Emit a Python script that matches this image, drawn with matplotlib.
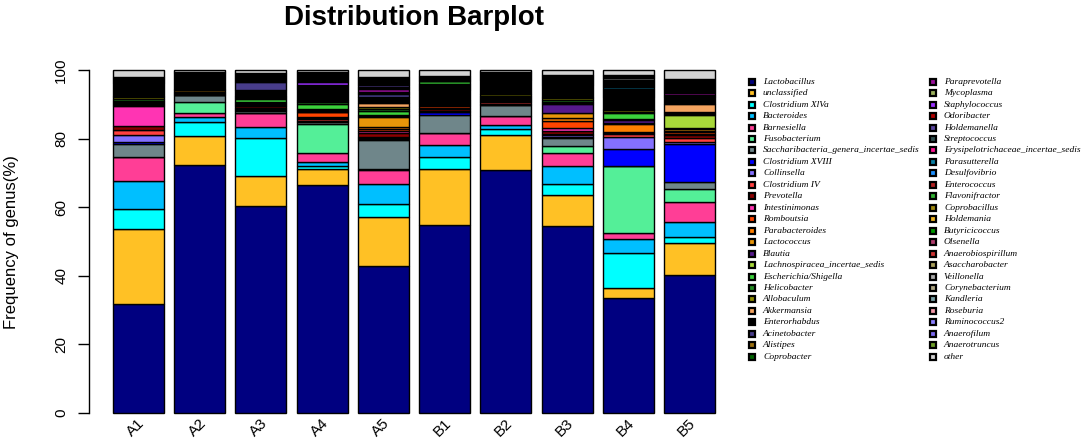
import matplotlib
matplotlib.use("Agg")
import matplotlib.pyplot as plt
import numpy as np

plt.rcParams['font.family'] = ['Liberation Sans', 'DejaVu Sans']

samples = ["A1", "A2", "A3", "A4", "A5", "B1", "B2", "B3", "B4", "B5"]

genera = [
    "Lactobacillus", "unclassified", "Clostridium XlVa", "Bacteroides", "Barnesiella",
    "Fusobacterium", "Saccharibacteria_genera_incertae_sedis", "Clostridium XVIII",
    "Collinsella", "Clostridium IV", "Prevotella", "Intestinimonas", "Romboutsia",
    "Parabacteroides", "Lactococcus", "Blautia", "Lachnospiracea_incertae_sedis",
    "Escherichia/Shigella", "Helicobacter", "Allobaculum", "Akkermansia", "Enterorhabdus",
    "Acinetobacter", "Alistipes", "Coprobacter",
    "Paraprevotella", "Mycoplasma", "Staphylococcus", "Odoribacter", "Holdemanella",
    "Streptococcus", "Erysipelotrichaceae_incertae_sedis", "Parasutterella", "Desulfovibrio",
    "Enterococcus", "Flavonifractor", "Coprobacillus", "Holdemania", "Butyricicoccus",
    "Olsenella", "Anaerobiospirillum", "Asaccharobacter", "Veillonella", "Corynebacterium",
    "Kandleria", "Roseburia", "Ruminococcus2", "Anaerofilum", "Anaerotruncus", "other",
]

# relative abundance (%) per sample, in the order of `genera`
A1 = [31.9, 21.9, 5.8, 8.2, 6.8, 0.2, 3.6, 0.6, 2.2, 1.4,
      1.2, 5.9, 0.3, 0.2, 0.4, 0.2, 0.2, 0.2, 0.5, 0.5,
      0.2, 4.0, 0.1, 0.2, 0.2, 0.1, 0.1, 0.1, 0.1, 0.1,
      0.4, 0.1, 0.1, 0.1, 0.1, 0.0, 0.0, 0.0, 0.0, 0.0,
      0.0, 0.0, 0.0, 0.0, 0.0, 0.0, 0.0, 0.0, 0.0, 1.8]
A2 = [72.3, 8.5, 4.2, 1.5, 1.2, 3.0, 2.1, 0.0, 0.0, 0.2,
      0.2, 0.2, 0.2, 0.2, 0.5, 0.0, 0.0, 0.0, 0.2, 0.0,
      0.0, 4.7, 0.0, 0.2, 0.0, 0.0, 0.0, 0.0, 0.0, 0.0,
      0.0, 0.0, 0.0, 0.0, 0.0, 0.0, 0.0, 0.0, 0.0, 0.0,
      0.0, 0.0, 0.0, 0.0, 0.0, 0.0, 0.0, 0.0, 0.0, 0.6]
A3 = [60.5, 8.8, 10.9, 3.2, 4.1, 0.2, 0.5, 0.2, 0.2, 0.3,
      0.6, 0.2, 0.3, 0.2, 0.2, 0.3, 0.2, 0.8, 0.3, 0.2,
      0.2, 1.8, 2.5, 0.2, 0.2, 0.2, 0.2, 0.2, 0.2, 0.2,
      0.3, 0.2, 0.2, 0.2, 0.2, 0.0, 0.0, 0.0, 0.0, 0.0,
      0.0, 0.0, 0.0, 0.0, 0.0, 0.0, 0.0, 0.0, 0.0, 0.8]
A4 = [66.6, 4.7, 0.8, 1.2, 2.6, 8.6, 0.4, 0.2, 0.2, 0.4,
      0.3, 0.3, 1.5, 0.2, 0.2, 0.2, 0.2, 1.6, 0.6, 0.4,
      0.2, 3.3, 0.2, 0.2, 0.2, 0.2, 0.2, 0.9, 0.2, 0.2,
      0.2, 0.2, 0.4, 0.2, 0.2, 0.2, 0.2, 0.2, 0.1, 0.1,
      0.1, 0.0, 0.0, 0.0, 0.0, 0.0, 0.3, 0.0, 0.0, 0.6]
A5 = [42.8, 14.3, 4.0, 5.6, 4.3, 0.3, 8.4, 0.3, 0.3, 0.3,
      1.0, 0.6, 0.6, 0.6, 2.9, 0.4, 0.3, 1.2, 0.5, 0.5,
      1.3, 1.8, 0.9, 0.2, 0.2, 0.9, 0.3, 0.2, 0.2, 0.5,
      0.2, 0.2, 0.2, 0.2, 0.2, 0.2, 0.2, 0.2, 0.1, 0.1,
      0.1, 0.1, 0.1, 0.1, 0.1, 0.0, 0.0, 0.0, 0.0, 2.0]
B1 = [54.7, 16.4, 3.6, 3.3, 3.5, 0.2, 5.0, 0.9, 0.2, 0.2,
      0.6, 0.2, 0.6, 0.2, 0.2, 0.3, 0.2, 0.2, 0.3, 0.2,
      0.2, 3.0, 0.2, 0.2, 0.2, 0.1, 0.1, 0.1, 0.1, 0.1,
      0.1, 0.1, 0.1, 0.1, 0.1, 0.9, 0.1, 0.1, 0.4, 0.1,
      0.1, 0.1, 0.1, 0.1, 0.1, 0.1, 0.1, 0.1, 0.1, 1.5]
B2 = [70.8, 10.3, 1.7, 1.2, 2.6, 0.2, 3.0, 0.2, 0.2, 0.5,
      0.2, 0.2, 0.2, 0.2, 0.2, 0.2, 0.2, 0.2, 0.2, 0.5,
      0.2, 4.1, 0.1, 0.1, 0.1, 0.1, 0.4, 0.1, 0.1, 0.1,
      0.1, 0.1, 0.1, 0.1, 0.1, 0.1, 0.1, 0.1, 0.1, 0.1,
      0.0, 0.0, 0.0, 0.0, 0.0, 0.0, 0.0, 0.0, 0.0, 0.6]
B3 = [54.5, 9.2, 3.0, 5.5, 3.8, 1.8, 2.5, 0.4, 0.4, 0.4,
      0.7, 1.0, 1.9, 0.9, 1.5, 2.8, 0.3, 0.3, 0.4, 0.7,
      0.3, 3.3, 0.2, 0.2, 0.4, 0.1, 0.1, 0.1, 0.1, 0.1,
      0.1, 0.1, 0.1, 0.1, 0.1, 0.1, 0.1, 0.1, 0.1, 0.1,
      0.1, 0.1, 0.1, 0.1, 0.1, 0.1, 0.1, 0.1, 0.1, 1.2]
B4 = [33.5, 3.0, 10.3, 4.1, 1.7, 19.6, 0.0, 5.0, 3.5, 0.6,
      0.3, 0.2, 0.3, 2.4, 0.2, 0.7, 0.3, 1.9, 0.4, 0.3,
      0.3, 3.5, 0.2, 0.2, 0.3, 0.2, 0.5, 0.2, 0.2, 0.2,
      0.3, 0.2, 0.5, 0.2, 0.2, 0.2, 0.2, 0.5, 0.2, 0.2,
      0.2, 0.2, 0.5, 0.2, 0.2, 0.4, 0.1, 0.1, 0.1, 1.2]
B5 = [40.4, 9.3, 1.8, 4.3, 5.9, 3.8, 2.0, 10.9, 0.6, 1.2,
      0.9, 0.4, 0.4, 0.5, 0.4, 0.5, 3.8, 0.3, 0.3, 0.3,
      2.1, 2.0, 0.2, 0.3, 0.3, 0.4, 0.4, 0.2, 0.2, 0.2,
      0.2, 0.4, 0.2, 0.2, 0.2, 0.3, 0.2, 0.2, 0.3, 0.2,
      0.1, 0.1, 0.1, 0.1, 0.1, 0.1, 0.1, 0.1, 0.1, 2.4]

colors = [
    "#000080", "#FFC125", "#00FFFF", "#00BFFF", "#FF3E96",
    "#54EF98", "#6F868A", "#0000FF", "#8470FF", "#FF4040",
    "#8B0000", "#FF34B3", "#FF4500", "#FF7F00", "#E8960A",
    "#551A8B", "#A8D83A", "#3CD23C", "#228B22", "#8B8B00",
    "#F4A460", "#000000", "#483D8B", "#9C7010", "#006400",
    "#9B109B", "#9AB05C", "#9B30FF", "#B00000", "#5A45A0",
    "#2F4F4F", "#FF1493", "#0A80A5", "#1E90FF", "#B22222",
    "#30B030", "#A08A10", "#EEB422", "#009A00", "#B03C6C",
    "#CD3333", "#A89F5A", "#A9A9A9", "#ADA683", "#78A0A5",
    "#F599A8", "#8C80FF", "#7B68EE", "#6E9E28", "#D3D3D3",
]

data = np.array([A1, A2, A3, A4, A5, B1, B2, B3, B4, B5], dtype=float)
data = data / data.sum(axis=1, keepdims=True) * 100.0

W, H = 1084, 438
fig = plt.figure(figsize=(W / 100, H / 100), dpi=100)
ax = fig.add_axes([89 / W, (H - 426.7) / H, 650 / W, 370 / H])

x = 0.7 + 1.2 * np.arange(len(samples))
bottom = np.zeros(len(samples))
for j in range(len(genera)):
    ax.bar(x, data[:, j], width=1.0, bottom=bottom, color=colors[j],
           edgecolor="black", linewidth=1.0)
    bottom += data[:, j]

ax.set_xlim(-0.272, 12.472)
ax.set_ylim(-4, 104)
for s in ["top", "right", "bottom"]:
    ax.spines[s].set_visible(False)
ax.spines["left"].set_bounds(0, 100)
ax.spines["left"].set_linewidth(1.0)
ax.set_yticks([0, 20, 40, 60, 80, 100])
ax.tick_params(axis="y", length=8, width=1.0, labelsize=11, pad=7)
for lbl in ax.get_yticklabels():
    lbl.set_rotation(90)
    lbl.set_va("center")
ax.set_xticks([])
for xi, s in zip(x, samples):
    ax.text(xi + 0.08, -2.3, s, rotation=45, ha="right", va="center",
            rotation_mode="anchor", fontsize=11, clip_on=False)

fig.text(414 / W, 1 - 18 / H, "Distribution Barplot", fontsize=20,
         fontweight="bold", ha="center", va="center")
fig.text(12 / W, 1 - 242 / H, "Frequency of genus(%)", rotation=90,
         fontsize=12, ha="center", va="center")

# legend (two columns)
lax = fig.add_axes([0, 0, 1, 1])
lax.set_xlim(0, W)
lax.set_ylim(H, 0)
lax.axis("off")
nrow = 25
for i, g in enumerate(genera):
    col, row = divmod(i, nrow)
    mx = 752 if col == 0 else 932.5
    tx = 763 if col == 0 else 944
    yy = 81.7 + row * 11.46
    lax.plot([mx], [yy], marker="s", ms=4.5, mew=1.6, mfc=colors[i], mec="black")
    lax.text(tx, yy, g, fontsize=6.8, fontstyle="italic",
             family=["Liberation Serif", "DejaVu Serif"], va="center", ha="left")

fig.savefig("out.png", dpi=100)
